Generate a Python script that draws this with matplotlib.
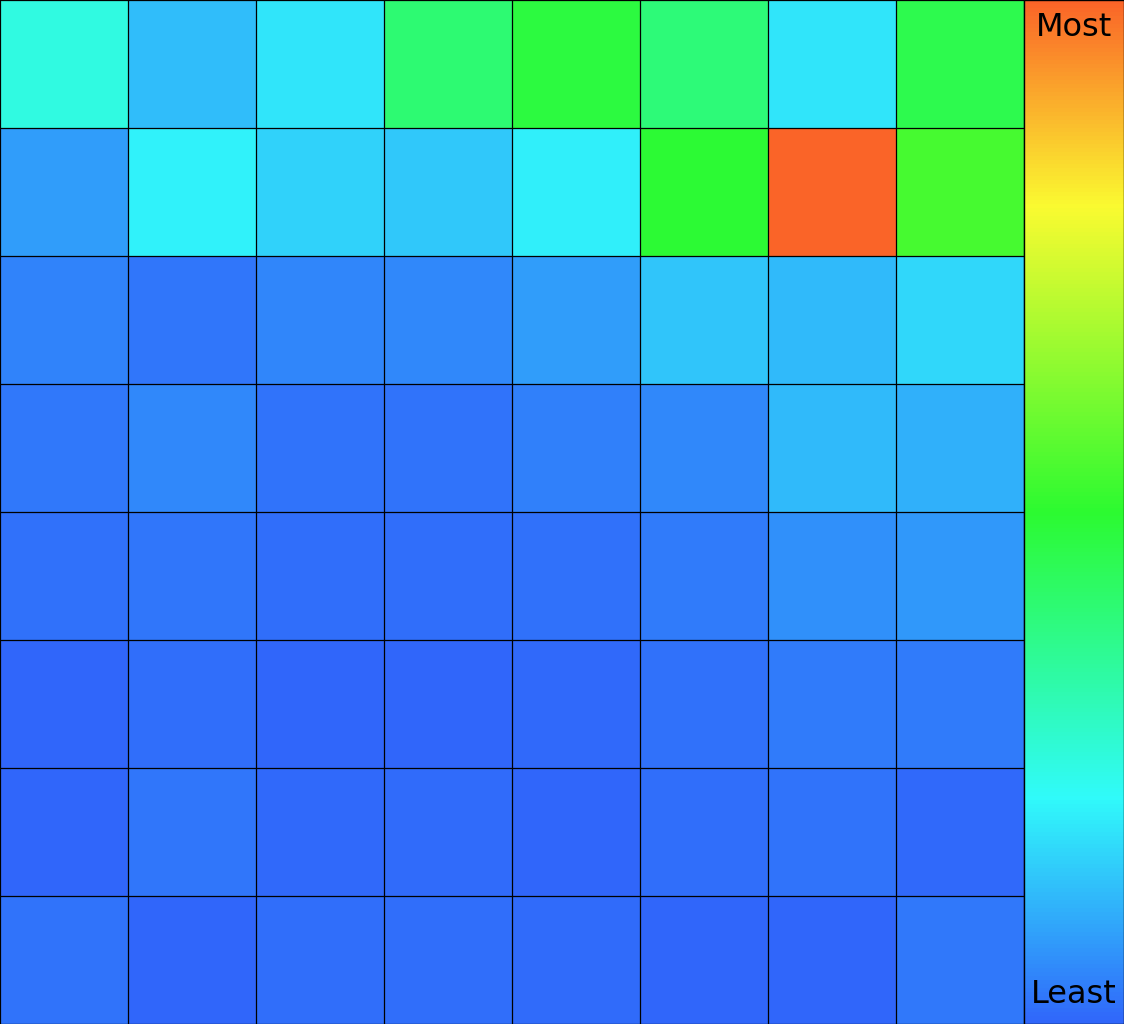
import numpy as np
import matplotlib
matplotlib.use("Agg")
import matplotlib.pyplot as plt
from matplotlib.colors import LinearSegmentedColormap, Normalize

# Cell intensities (0 = least, 1 = most), rows top to bottom
row0 = [0.254, 0.130, 0.190, 0.410, 0.478, 0.400, 0.190, 0.460]
row1 = [0.083, 0.210, 0.164, 0.147, 0.207, 0.493, 0.997, 0.537]
row2 = [0.043, 0.026, 0.049, 0.052, 0.083, 0.141, 0.127, 0.171]
row3 = [0.029, 0.052, 0.023, 0.023, 0.040, 0.052, 0.127, 0.112]
row4 = [0.017, 0.026, 0.014, 0.014, 0.017, 0.032, 0.066, 0.078]
row5 = [0.002, 0.012, 0.000, 0.002, 0.005, 0.017, 0.032, 0.032]
row6 = [0.000, 0.026, 0.006, 0.009, 0.003, 0.012, 0.023, 0.006]
row7 = [0.023, 0.000, 0.012, 0.014, 0.009, 0.003, 0.000, 0.029]

legend_top = "Most"
legend_bottom = "Least"

data = np.array([row0, row1, row2, row3, row4, row5, row6, row7])

cmap = LinearSegmentedColormap.from_list(
    "heat",
    [(0.0, "#3066fa"), (0.22, "#30fafa"), (0.5, "#2cfa30"),
     (0.8, "#fafa30"), (1.0, "#fa6428")])
norm = Normalize(0, 1)

W, H = 1124, 1024
fig = plt.figure(figsize=(W / 100, H / 100), dpi=100)
ax = fig.add_axes([0, 0, 1024 / W, 1])
nrows, ncols = data.shape
mesh = ax.pcolormesh(np.arange(ncols + 1), np.arange(nrows + 1), data,
                     cmap=cmap, norm=norm, edgecolors="none")
ax.set_xlim(0, ncols)
ax.set_ylim(nrows, 0)
ax.vlines(np.arange(1, ncols + 1), 0, nrows, colors="black",
          linewidth=0.9, snap=True)
ax.hlines(np.arange(0, nrows + 1), 0, ncols, colors="black",
          linewidth=0.9, snap=True)
ax.vlines([0.0], 0, nrows, colors="black", linewidth=1.6, snap=True)
ax.set_xticks([])
ax.set_yticks([])
for s in ax.spines.values():
    s.set_visible(False)

cax = fig.add_axes([1024 / W, 0, 100 / W, 1])
cb = fig.colorbar(mesh, cax=cax)
cb.set_ticks([])
cb.outline.set_edgecolor("black")
cb.outline.set_linewidth(1.0)
cax.text(0.5, 0.988, legend_top, transform=cax.transAxes, ha="center",
         va="top", fontsize=23, color="black")
cax.text(0.5, 0.014, legend_bottom, transform=cax.transAxes, ha="center",
         va="bottom", fontsize=23, color="black")

fig.savefig("out.png", dpi=100)
